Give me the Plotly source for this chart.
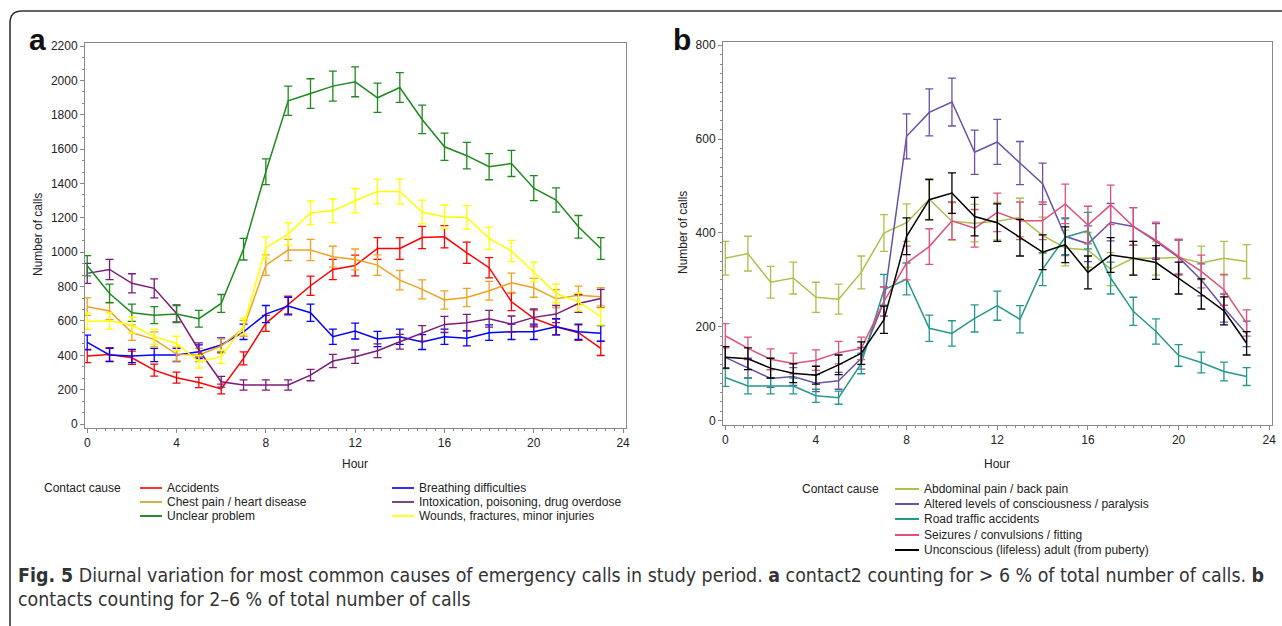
import plotly.graph_objects as go

W, H = 1282, 626

hours = list(range(24))

# ---- Panel a data ----
a_names = ["Accidents", "Breathing difficulties", "Chest pain / heart disease",
           "Intoxication, poisoning, drug overdose", "Unclear problem",
           "Wounds, fractures, minor injuries"]
a_colors = ["#ff0000", "#0000ff", "#f2a11f", "#7a1a7a", "#1e8a1e", "#ffff00"]
a_legend_colors = ["#ff3030", "#3030ff", "#d8b048", "#7a4a7a", "#2a8a2a", "#ffff20"]

accidents = [396, 405, 386, 314, 270, 242, 204, 382, 586, 693, 805, 900, 923, 1022, 1022, 1086, 1090, 997, 910, 712, 615, 566, 532, 440]
accidents_err = [39, 39, 39, 35, 32, 30, 28, 38, 47, 52, 56, 59, 60, 63, 63, 65, 65, 62, 59, 52, 49, 47, 45, 41]
breathing = [475, 402, 396, 402, 402, 421, 460, 537, 640, 687, 648, 508, 541, 495, 508, 477, 508, 499, 532, 537, 537, 566, 537, 528]
breathing_err = [43, 39, 39, 39, 39, 40, 42, 45, 50, 51, 50, 44, 46, 44, 44, 43, 44, 44, 45, 45, 45, 47, 45, 45]
chest = [683, 658, 532, 493, 407, 402, 454, 557, 925, 1013, 1013, 974, 958, 925, 838, 784, 722, 737, 776, 822, 793, 729, 749, 741]
chest_err = [51, 50, 45, 44, 40, 39, 42, 46, 60, 62, 62, 61, 61, 60, 57, 55, 53, 53, 55, 56, 55, 53, 54, 53]
intox = [877, 900, 819, 790, 644, 431, 246, 227, 227, 227, 285, 367, 392, 427, 479, 528, 580, 590, 613, 582, 621, 640, 702, 731]
intox_err = [58, 59, 56, 55, 50, 41, 31, 30, 30, 30, 33, 38, 39, 40, 43, 45, 47, 48, 49, 47, 49, 50, 52, 53]
unclear = [921, 760, 648, 634, 640, 613, 702, 1018, 1469, 1882, 1924, 1967, 1992, 1899, 1959, 1773, 1614, 1562, 1498, 1517, 1373, 1304, 1148, 1022]
unclear_err = [59, 54, 50, 49, 50, 49, 52, 63, 75, 85, 86, 87, 87, 85, 87, 83, 79, 77, 76, 76, 73, 71, 66, 63]
wounds = [599, 601, 576, 508, 469, 363, 392, 570, 1026, 1106, 1230, 1241, 1300, 1354, 1354, 1234, 1207, 1203, 1081, 1007, 885, 760, 712, 625]
wounds_err = [48, 48, 47, 44, 42, 37, 39, 47, 63, 65, 69, 69, 71, 72, 72, 69, 68, 68, 64, 62, 58, 54, 52, 49]

a_values = [accidents, breathing, chest, intox, unclear, wounds]
a_errors = [accidents_err, breathing_err, chest_err, intox_err, unclear_err, wounds_err]

# ---- Panel b data ----
b_names = ["Abdominal pain / back pain", "Altered levels of consciousness / paralysis",
           "Road traffic accidents", "Seizures / convulsions / fitting",
           "Unconscious (lifeless) adult (from puberty)"]
b_colors = ["#a8c24a", "#6a52a8", "#23998a", "#e0507a", "#000000"]

abdominal = [346, 356, 295, 304, 263, 259, 316, 400, 422, 472, 425, 421, 425, 433, 395, 368, 364, 323, 346, 346, 348, 336, 346, 339]
abdominal_err = [36, 37, 34, 34, 32, 32, 35, 39, 40, 43, 40, 40, 40, 41, 39, 38, 37, 35, 36, 36, 37, 36, 36, 36]
altered = [135, 112, 90, 94, 80, 85, 133, 254, 606, 657, 679, 572, 594, 549, 505, 393, 377, 423, 414, 382, 348, 300, 240, 185]
altered_err = [23, 21, 19, 19, 18, 18, 23, 31, 48, 50, 51, 47, 48, 46, 44, 39, 38, 40, 40, 38, 37, 34, 30, 27]
road = [92, 74, 74, 74, 53, 49, 122, 279, 302, 197, 186, 218, 245, 216, 323, 391, 405, 304, 233, 190, 139, 124, 105, 94]
road_err = [19, 17, 17, 17, 14, 14, 22, 33, 34, 28, 27, 29, 31, 29, 35, 39, 39, 34, 30, 27, 23, 22, 20, 19]
seizures = [181, 154, 131, 122, 129, 145, 154, 254, 336, 371, 426, 410, 444, 426, 426, 462, 417, 460, 414, 385, 350, 318, 279, 208]
seizures_err = [26, 24, 22, 22, 22, 24, 24, 31, 36, 38, 40, 40, 41, 40, 40, 42, 40, 42, 40, 38, 37, 35, 33, 28]
unconscious = [135, 132, 112, 101, 97, 119, 144, 215, 393, 471, 485, 435, 422, 390, 359, 375, 316, 353, 346, 337, 304, 270, 234, 165]
unconscious_err = [23, 23, 21, 20, 19, 21, 24, 29, 39, 43, 43, 41, 40, 39, 37, 38, 35, 37, 36, 36, 34, 32, 30, 25]

b_values = [abdominal, altered, road, seizures, unconscious]
b_errors = [abdominal_err, altered_err, road_err, seizures_err, unconscious_err]

a_yticks = [0, 200, 400, 600, 800, 1000, 1200, 1400, 1600, 1800, 2000, 2200]
b_yticks = [0, 200, 400, 600, 800]
x_ticks = [0, 4, 8, 12, 16, 20, 24]

caption1_bold = "Fig. 5"
caption1 = (" Diurnal variation for most common causes of emergency calls in study period. "
            "<b>a</b> contact2 counting for &gt; 6 % of total number of calls. <b>b</b>")
caption2 = "contacts counting for 2\u20136 % of total number of calls"


def px(x):
    return x / W


def py(y):
    return 1 - y / H


fig = go.Figure()

for name, vals, errs, col in zip(a_names, a_values, a_errors, a_colors):
    fig.add_trace(go.Scatter(
        x=hours, y=vals, name=name, mode="lines", xaxis="x", yaxis="y",
        line=dict(color=col, width=1.5), showlegend=False,
        error_y=dict(type="data", array=errs, visible=True, color=col,
                     thickness=1.3, width=4)))

for name, vals, errs, col in zip(b_names, b_values, b_errors, b_colors):
    fig.add_trace(go.Scatter(
        x=hours, y=vals, name=name, mode="lines", xaxis="x2", yaxis="y2",
        line=dict(color=col, width=1.5), showlegend=False,
        error_y=dict(type="data", array=errs, visible=True, color=col,
                     thickness=1.3, width=4)))

tickfont = dict(family="Liberation Sans, Arial, sans-serif", size=12, color="#222")
axis_common = dict(showgrid=False, zeroline=False, showline=True, mirror=True,
                   linecolor="#888888", linewidth=1, ticks="outside", ticklen=4,
                   tickcolor="#888888", tickfont=tickfont)

fig.update_layout(
    width=W, height=H, margin=dict(l=0, r=0, t=0, b=0, autoexpand=False),
    paper_bgcolor="white", plot_bgcolor="white", showlegend=False,
    xaxis=dict(domain=[px(85), px(626)], range=[-0.1, 24.13], tickvals=x_ticks,
               minor=dict(dtick=0.4, ticks="outside", ticklen=2, tickcolor="#888888"),
               anchor="y", **axis_common),
    yaxis=dict(domain=[py(428), py(43)], range=[-23, 2218], tickvals=a_yticks,
               minor=dict(dtick=200 / 3, ticks="outside", ticklen=2, tickcolor="#888888"),
               anchor="x", **axis_common),
    xaxis2=dict(domain=[px(723), px(1272)], range=[-0.1, 24.12], tickvals=x_ticks,
                minor=dict(dtick=0.4, ticks="outside", ticklen=2, tickcolor="#888888"),
                anchor="y2", **axis_common),
    yaxis2=dict(domain=[py(425), py(42)], range=[-9.2, 807], tickvals=b_yticks,
                minor=dict(dtick=20, ticks="outside", ticklen=2, tickcolor="#888888"),
                anchor="x2", **axis_common),
)

ann = []
lab_font = dict(family="Liberation Sans, Arial, sans-serif", size=12, color="#222")


def note(x, y, text, font, **kw):
    d = dict(x=px(x), y=py(y), xref="paper", yref="paper", text=text,
             showarrow=False, font=font, xanchor="center", yanchor="middle")
    d.update(kw)
    ann.append(d)


# panel letters
letter_font = dict(family="Liberation Sans, Arial, sans-serif", size=30, color="#111")
note(37, 40, "<b>a</b>", letter_font)
note(682, 40, "<b>b</b>", letter_font)
# axis titles
note(38, 235, "Number of calls", lab_font, textangle=-90)
note(683, 233, "Number of calls", lab_font, textangle=-90)
note(355, 464, "Hour", lab_font)
note(997, 464, "Hour", lab_font)

shapes = []
# legend a (manual, two columns)
note(42, 488, "Contact cause", lab_font, xanchor="left")
a_rows = [488, 502, 516]
for i, (name, col) in enumerate(zip(a_names, a_legend_colors)):
    colx = i % 2
    row = i // 2
    x0 = 140 if colx == 0 else 392
    yy = a_rows[row]
    shapes.append(dict(type="line", xref="paper", yref="paper", x0=px(x0), x1=px(x0 + 22),
                       y0=py(yy), y1=py(yy), line=dict(color=col, width=2)))
    note(x0 + 25, yy, name, lab_font, xanchor="left")

# legend b (manual, one column)
note(800, 489, "Contact cause", lab_font, xanchor="left")
b_rows = [489, 504, 519, 535, 550]
for name, col, yy in zip(b_names, b_colors, b_rows):
    shapes.append(dict(type="line", xref="paper", yref="paper", x0=px(895), x1=px(919),
                       y0=py(yy), y1=py(yy), line=dict(color=col, width=2)))
    note(922, yy, name, lab_font, xanchor="left")

# caption
cap_font = dict(family="Liberation Sans Narrow, DejaVu Sans Condensed, Roboto, sans-serif", size=19.4, color="#333")
note(16, 575, "<b>" + caption1_bold + "</b>" + caption1, cap_font, xanchor="left")
note(16, 599, caption2, cap_font, xanchor="left")

# outer frame (top and left edges with rounded corner)
path = "M {:.5f} {:.5f} L {:.5f} {:.5f} Q {:.5f} {:.5f} {:.5f} {:.5f} L {:.5f} {:.5f}".format(
    px(10), py(626), px(10), py(23), px(10), py(11), px(22), py(11), px(1282), py(11))
shapes.append(dict(type="path", xref="paper", yref="paper", path=path,
                   line=dict(color="#333333", width=1.6)))

fig.update_layout(annotations=ann, shapes=shapes)

fig.write_html("out.html", config={"displayModeBar": False},
               post_script="document.body.style.margin='0px';document.body.style.overflow='hidden';")
